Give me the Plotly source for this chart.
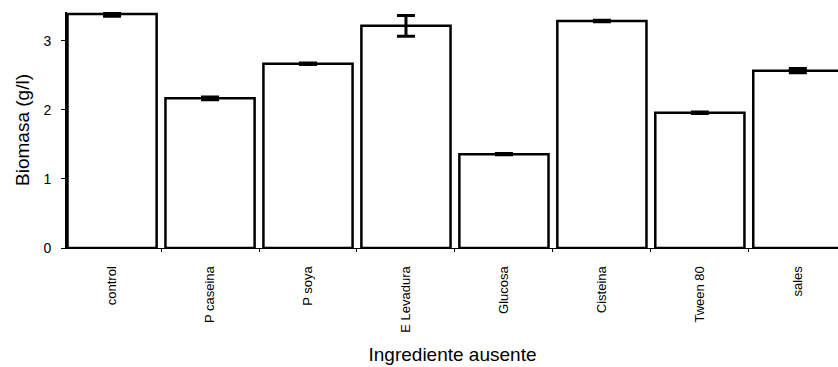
import plotly.graph_objects as go

# Biomass obtained when each medium ingredient is left out
ingredientes = ["control", "P caseina", "P soya", "E Levadura", "Glucosa",
                "Cisteina", "Tween 80", "sales"]
biomasa = [3.39, 2.17, 2.67, 3.22, 1.36, 3.29, 1.96, 2.57]
error = [0.03, 0.02, 0.01, 0.15, 0.01, 0.01, 0.01, 0.03]

FONT = "Liberation Sans, Arial, sans-serif"

fig = go.Figure(
    go.Bar(
        x=list(range(len(ingredientes))),
        y=biomasa,
        width=0.91,
        marker=dict(color="white", line=dict(color="black", width=2.5)),
        error_y=dict(type="data", array=error, visible=True,
                     color="black", thickness=3, width=9),
    )
)

fig.update_layout(
    width=838, height=367,
    margin=dict(l=67, r=0, t=12, b=119, autoexpand=False),
    paper_bgcolor="white", plot_bgcolor="white",
    showlegend=False,
    font=dict(family=FONT, color="black"),
)

fig.update_xaxes(
    range=[-0.46, 7.41],
    tickmode="array",
    tickvals=list(range(len(ingredientes))),
    ticktext=ingredientes,
    tickangle=-90,
    tickfont=dict(size=13),
    ticks="",
    ticklabelstandoff=12,
    # small marks between neighbouring bars
    minor=dict(tick0=0.5, dtick=1, ticks="outside", ticklen=3,
               tickcolor="black", tickwidth=1),
    showline=True, linecolor="black", linewidth=1,
    showgrid=False, zeroline=False,
    automargin=False,
    title=dict(text="Ingrediente ausente", font=dict(size=19), standoff=15),
)

fig.update_yaxes(
    range=[0, 3.42],
    tickvals=[0, 1, 2, 3],
    tickfont=dict(size=14),
    ticks="outside", ticklen=4, tickcolor="black",
    ticklabelstandoff=7,
    showline=True, linecolor="black", linewidth=2,
    showgrid=False, zeroline=False,
    automargin=False,
    title=dict(text="Biomasa (g/l)", font=dict(size=19), standoff=9),
)

fig.write_html("out.html")
